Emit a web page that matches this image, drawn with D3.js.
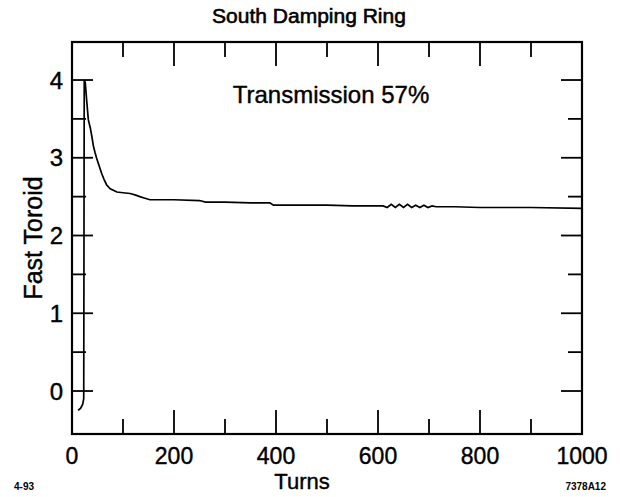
<!DOCTYPE html>
<html><head><meta charset="utf-8">
<script src="https://cdn.jsdelivr.net/npm/d3@7"></script>
<style>body{margin:0;background:#fff}svg{display:block}</style>
</head><body>
<script>
// Data (turns, fast toroid)
const turns = [12,17,21,23,24,26,29,32,36,39,42,45,48,53,58,63,68,75,82,88,100,114,125,133,143,153,200,250,262,300,350,388,395,450,500,550,600,610,618,626,634,642,650,658,666,674,682,690,698,706,714,750,800,900,1000];
const toroid = [-0.25,-0.22,-0.17,-0.1,4.0,3.97,3.72,3.49,3.38,3.27,3.15,3.07,3.0,2.9,2.8,2.72,2.65,2.6,2.58,2.56,2.55,2.54,2.52,2.5,2.48,2.46,2.46,2.45,2.43,2.43,2.42,2.42,2.39,2.39,2.39,2.38,2.38,2.38,2.36,2.40,2.36,2.40,2.36,2.40,2.36,2.39,2.36,2.39,2.36,2.38,2.37,2.37,2.36,2.36,2.35];
const xTickValues = [0,200,400,600,800,1000];
const xTickLabels = ["0","200","400","600","800","1000"];
const yTickValues = [0,1,2,3,4];
const yTickLabels = ["0","1","2","3","4"];
const titleText = "South Damping Ring";
const xLabel = "Turns";
const yLabel = "Fast Toroid";
const annotation = "Transmission 57%";
const leftNote = "4-93";
const rightNote = "7378A12";

const W = 620, H = 497;
const L = 72, R = 582, T = 42, B = 434;
const font = "'Liberation Sans', Arial, sans-serif";

const svg = d3.select("body").append("svg").attr("width", W).attr("height", H);
const x = d3.scaleLinear().domain([0,1000]).range([L,R]);
const y = d3.scaleLinear().domain([-0.553, 4.489]).range([B,T]);

const g = svg.append("g").attr("stroke","#000").attr("fill","none");
g.append("rect").attr("x",L).attr("y",T).attr("width",R-L).attr("height",B-T).attr("stroke-width",2.2);

// x ticks every 100, major every 200
d3.range(100,1000,100).forEach(v=>{
  const len = v%200===0 ? 24 : 15;
  g.append("line").attr("x1",x(v)).attr("x2",x(v)).attr("y1",B).attr("y2",B-len).attr("stroke-width",1.8);
  g.append("line").attr("x1",x(v)).attr("x2",x(v)).attr("y1",T).attr("y2",T+len).attr("stroke-width",1.8);
});
// y ticks every 0.5
d3.range(0,4.01,0.5).forEach(v=>{
  const len = Number.isInteger(v) ? 21 : 14;
  g.append("line").attr("x1",L).attr("x2",L+len).attr("y1",y(v)).attr("y2",y(v)).attr("stroke-width",1.8);
  g.append("line").attr("x1",R).attr("x2",R-len).attr("y1",y(v)).attr("y2",y(v)).attr("stroke-width",1.8);
});

// curve
const line = d3.line().x((d,i)=>x(turns[i])).y((d,i)=>y(toroid[i])).curve(d3.curveLinear);
g.append("path").datum(turns).attr("d",line).attr("stroke-width",1.7);

const t = svg.append("g").attr("fill","#000").attr("stroke","#000").attr("stroke-width",0.4).attr("font-family",font);
xTickValues.forEach((v,i)=>{
  t.append("text").attr("x",x(v)).attr("y",464).attr("text-anchor","middle").attr("font-size",23).text(xTickLabels[i]);
});
yTickValues.forEach((v,i)=>{
  t.append("text").attr("x",63).attr("y",y(v)).attr("dy","0.36em").attr("text-anchor","end").attr("font-size",24).text(yTickLabels[i]);
});
t.append("text").attr("x",(L+R)/2 - 18).attr("y",23).attr("text-anchor","middle").attr("font-size",21).attr("stroke-width",0.6).text(titleText);
t.append("text").attr("x",(L+R)/2 - 25).attr("y",489).attr("text-anchor","middle").attr("font-size",22).text(xLabel);
t.append("text").attr("transform",`translate(42,${(T+B)/2}) rotate(-90)`).attr("text-anchor","middle").attr("font-size",25).text(yLabel);
t.append("text").attr("x",331).attr("y",103).attr("text-anchor","middle").attr("font-size",24).text(annotation);
t.append("text").attr("x",14).attr("y",490).attr("font-size",10).attr("font-weight","bold").attr("stroke","none").text(leftNote);
t.append("text").attr("x",606).attr("y",490).attr("text-anchor","end").attr("font-size",10).attr("font-weight","bold").attr("stroke","none").text(rightNote);
</script>
</body></html>
